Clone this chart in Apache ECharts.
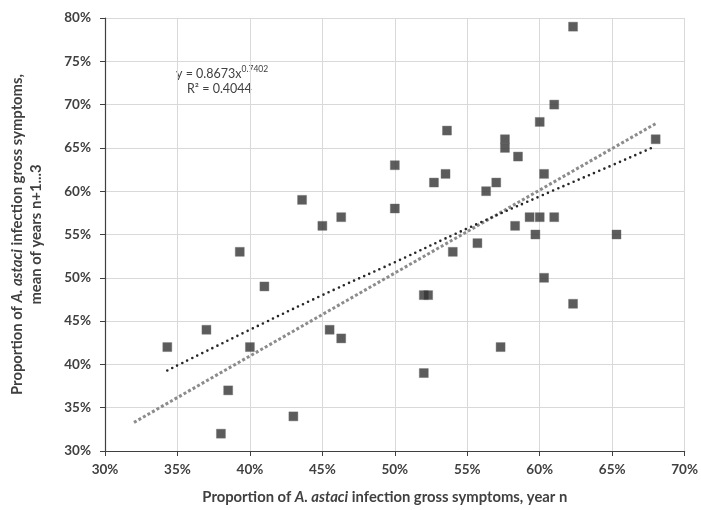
<!DOCTYPE html>
<html>
<head>
<meta charset="utf-8">
<script src="https://cdn.jsdelivr.net/npm/echarts@6/dist/echarts.min.js"></script>
<style>html,body{margin:0;padding:0;background:#fff}#c{width:701px;height:510px}</style>
</head>
<body>
<div id="c"></div>
<script>
// Observed points: x = proportion year n (%), y = mean of years n+1...3 (%)
const obsX = [62.3, 61, 60, 53.6, 57.6, 57.6, 68, 50, 58.5, 52.7, 53.5, 56.3, 57, 60.3,
  50, 59.3, 60, 61, 58.3, 59.7, 65.3, 54, 55.7, 60.3, 52, 52.3, 62.3, 57.3, 52,
  43.6, 45, 46.3, 39.3, 41, 37, 34.3, 40, 45.5, 46.3, 38.5, 43, 38];
const obsY = [79, 70, 68, 67, 66, 65, 66, 63, 64, 61, 62, 60, 61, 62,
  58, 57, 57, 57, 56, 55, 55, 53, 54, 50, 48, 48, 47, 42, 39,
  59, 56, 57, 53, 49, 44, 42, 42, 44, 43, 37, 34, 32];
// Power trendline (black dotted)
const powX = [34.3, 40, 45, 50, 55, 60, 65, 68];
const powY = [39.3, 44.0, 48.0, 51.8, 55.7, 59.4, 63.0, 65.2];
// Linear trendline (grey dotted)
const linX = [32, 68];
const linY = [33.3, 67.8];
const xTicks = {min: 30, max: 70, interval: 5};
const yTicks = {min: 30, max: 80, interval: 5};
const eqText = 'y = 0.8673x';
const eqExp = '0.7402';
const r2Text = 'R² = 0.4044';

const zip = (a, b) => a.map((v, i) => [v, b[i]]);
const FONT = 'Lato, "Open Sans", sans-serif';
const chart = echarts.init(document.getElementById('c'));
chart.setOption({
  animation: false,
  backgroundColor: '#fff',
  grid: {left: 98, right: 16, top: 18, bottom: 56},
  xAxis: {
    type: 'value', min: xTicks.min, max: xTicks.max, interval: xTicks.interval,
    axisLine: {show: true, onZero: false, lineStyle: {color: '#404040', width: 1.2}},
    axisTick: {show: true, length: 5, lineStyle: {color: '#404040'}},
    splitLine: {show: true, lineStyle: {color: '#d9d9d9', width: 1}},
    axisLabel: {formatter: '{value}%', color: '#404040', fontWeight: 'bold', fontSize: 13.5, fontFamily: FONT, margin: 12},
    name: 'Proportion of {i|A. astaci} infection gross symptoms, year n',
    nameLocation: 'middle', nameGap: 39,
    nameTextStyle: {color: '#404040', fontWeight: 'bold', fontSize: 14.8, fontFamily: FONT, padding: [0, 20, 0, 0],
      rich: {i: {fontStyle: 'italic', fontWeight: 'bold', fontSize: 14.8, fontFamily: FONT, color: '#404040'}}}
  },
  yAxis: {
    type: 'value', min: yTicks.min, max: yTicks.max, interval: yTicks.interval,
    axisLine: {show: true, onZero: false, lineStyle: {color: '#404040', width: 1.2}},
    axisTick: {show: true, length: 5, lineStyle: {color: '#404040'}},
    splitLine: {show: true, lineStyle: {color: '#d9d9d9', width: 1}},
    axisLabel: {formatter: '{value}%', color: '#404040', fontWeight: 'bold', fontSize: 13.5, fontFamily: FONT, margin: 14},
    name: 'Proportion of {i|A. astaci} infection gross symptoms,\nmean of years n+1...3',
    nameLocation: 'middle', nameGap: 59,
    nameTextStyle: {color: '#404040', fontWeight: 'bold', fontSize: 14.8, fontFamily: FONT, lineHeight: 19,
      rich: {i: {fontStyle: 'italic', fontWeight: 'bold', fontSize: 14.8, fontFamily: FONT, color: '#404040', lineHeight: 19}}}
  },
  graphic: [
    {type: 'text', left: 176, top: 65, style: {
      text: '{a|' + eqText + '}{s|' + eqExp + '}', fill: '#404040',
      rich: {a: {fontSize: 12.5, fontFamily: FONT, fill: '#404040', verticalAlign: 'bottom'},
             s: {fontSize: 8.5, fontFamily: FONT, fill: '#404040', verticalAlign: 'top', padding: [0, 0, 6, 0]}}}},
    {type: 'text', left: 187, top: 82, style: {text: r2Text, fill: '#404040', fontSize: 12.5, fontFamily: FONT}}
  ],
  series: [
    {type: 'line', data: zip(linX, linY), symbol: 'none', silent: true, z: 2,
      lineStyle: {color: '#8c8c8c', width: 3, type: [3, 2.2], cap: 'butt'}},
    {type: 'line', data: zip(powX, powY), symbol: 'none', silent: true, smooth: true, z: 3,
      lineStyle: {color: '#262626', width: 2.6, type: [0, 5.6], cap: 'round'}},
    {type: 'scatter', data: zip(obsX, obsY), symbol: 'rect', symbolSize: 9, z: 4,
      itemStyle: {color: '#333333', borderColor: '#6e6e6e', borderWidth: 0.5}}
  ]
});
</script>
</body>
</html>
